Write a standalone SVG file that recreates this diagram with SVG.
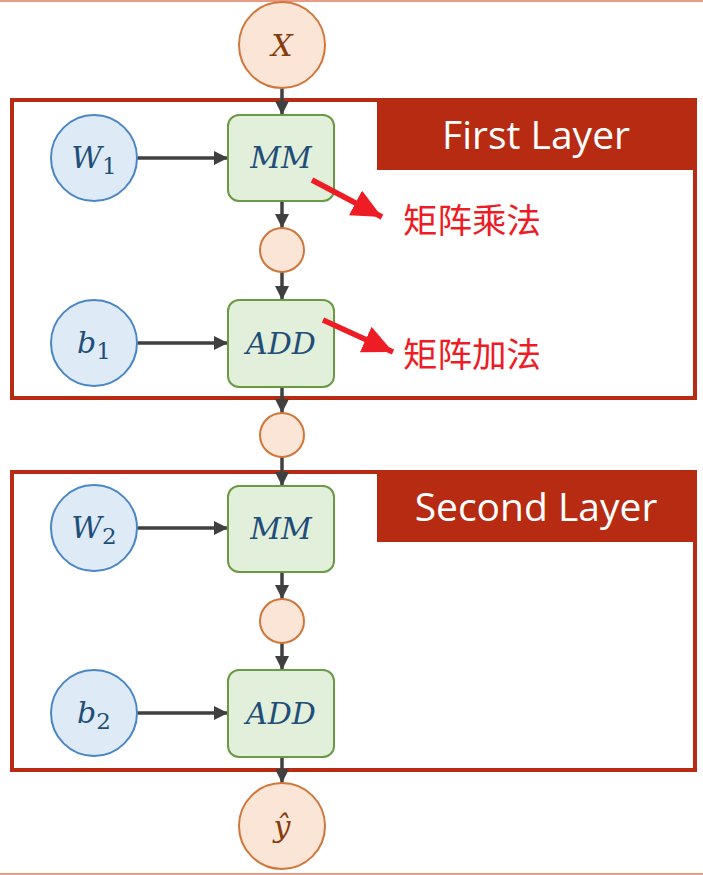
<svg xmlns="http://www.w3.org/2000/svg" width="703" height="875" viewBox="0 0 703 875">
<style>
.layer{fill:#fff;stroke:#B72B12;stroke-width:4}
.tab{fill:#B72B12}
.title{font-family:"Open Sans","Noto Sans",sans-serif;font-size:39px;fill:#fff;text-anchor:middle}
.io{fill:#FBE5D6;stroke:#D0763A;stroke-width:2}
.inp{fill:#DEEBF7;stroke:#4A86C5;stroke-width:2}
.op{fill:#E2EFDA;stroke:#6A9A45;stroke-width:2}
.math{font-family:"DejaVu Serif","Liberation Serif",serif;font-style:italic;font-size:30px;fill:#1F4E79;text-anchor:middle}
.mathio{font-family:"DejaVu Serif","Liberation Serif",serif;font-style:italic;font-size:30px;fill:#843C0C;text-anchor:middle}
.sub{font-style:normal;font-size:23px}
.conn{stroke:#404040;stroke-width:3.5;fill:none;marker-end:url(#ah)}
.red{stroke:#EE1C25;stroke-width:5.5;fill:none;marker-end:url(#rh)}
.note{font-family:"Noto Sans CJK SC",sans-serif;font-size:34.5px;fill:#EE1C25}
</style>
<defs>
<marker id="ah" markerUnits="userSpaceOnUse" markerWidth="14" markerHeight="14" refX="14" refY="7" orient="auto">
<path d="M0,0 L14,7 L0,14 z" fill="#404040"/>
</marker>
<marker id="rh" markerUnits="userSpaceOnUse" markerWidth="30" markerHeight="28" refX="30" refY="14" orient="auto">
<path d="M0,0 L30,14 L0,28 z" fill="#EE1C25"/>
</marker>
</defs>
<line x1="0" y1="1" x2="703" y2="1" stroke="#E07A5F" stroke-width="1.5"/>
<line x1="0" y1="874" x2="703" y2="874" stroke="#E07A5F" stroke-width="1.5"/>

<g id="layer1">
<rect class="layer" x="12" y="100" width="683" height="298"/>
<rect class="tab" x="377" y="100" width="318" height="70"/>
<text class="title" x="536" y="149">First Layer</text>
</g>
<g id="layer2">
<rect class="layer" x="12" y="472" width="683" height="298"/>
<rect class="tab" x="377" y="472" width="318" height="70"/>
<text class="title" x="536" y="521">Second Layer</text>
</g>

<g id="connectors">
<line class="conn" x1="282" y1="88" x2="282" y2="115"/>
<line class="conn" x1="137" y1="158" x2="228" y2="158"/>
<line class="conn" x1="282" y1="201" x2="282" y2="228"/>
<line class="conn" x1="282" y1="272" x2="282" y2="300"/>
<line class="conn" x1="137" y1="343" x2="228" y2="343"/>
<line class="conn" x1="282" y1="387" x2="282" y2="413"/>
<line class="conn" x1="282" y1="457" x2="282" y2="486"/>
<line class="conn" x1="137" y1="528" x2="228" y2="528"/>
<line class="conn" x1="282" y1="572" x2="282" y2="599"/>
<line class="conn" x1="282" y1="643" x2="282" y2="670"/>
<line class="conn" x1="137" y1="713" x2="228" y2="713"/>
<line class="conn" x1="282" y1="757" x2="282" y2="783"/>
</g>

<g id="nX"><circle class="io" cx="282" cy="45" r="43"/><text class="mathio" x="282" y="56">X</text></g>
<g id="nW1"><circle class="inp" cx="94" cy="158" r="43"/><text class="math" x="94" y="168">W<tspan class="sub" dy="6">1</tspan></text></g>
<g id="nMM1"><rect class="op" x="228" y="115" width="106" height="86" rx="11"/><text class="math" x="281" y="168">MM</text></g>
<g id="nH1"><circle class="io" cx="282" cy="250" r="22"/></g>
<g id="nb1"><circle class="inp" cx="94" cy="343" r="43"/><text class="math" x="94" y="353">b<tspan class="sub" dy="6">1</tspan></text></g>
<g id="nADD1"><rect class="op" x="228" y="300" width="106" height="87" rx="11"/><text class="math" x="281" y="354">ADD</text></g>
<g id="nH2"><circle class="io" cx="282" cy="435" r="22"/></g>
<g id="nW2"><circle class="inp" cx="94" cy="528" r="43"/><text class="math" x="94" y="538">W<tspan class="sub" dy="6">2</tspan></text></g>
<g id="nMM2"><rect class="op" x="228" y="486" width="106" height="86" rx="11"/><text class="math" x="281" y="539">MM</text></g>
<g id="nH3"><circle class="io" cx="282" cy="621" r="22"/></g>
<g id="nb2"><circle class="inp" cx="94" cy="713" r="43"/><text class="math" x="94" y="723">b<tspan class="sub" dy="6">2</tspan></text></g>
<g id="nADD2"><rect class="op" x="228" y="670" width="106" height="87" rx="11"/><text class="math" x="281" y="724">ADD</text></g>
<g id="nY"><circle class="io" cx="282" cy="826" r="43"/><text class="mathio" x="282" y="837">ŷ</text></g>

<g id="notes">
<line class="red" x1="312" y1="180" x2="382" y2="217"/>
<line class="red" x1="323" y1="320" x2="393" y2="352"/>
<text class="note" x="403" y="233">矩阵乘法</text>
<text class="note" x="403" y="367">矩阵加法</text>
</g>
</svg>
